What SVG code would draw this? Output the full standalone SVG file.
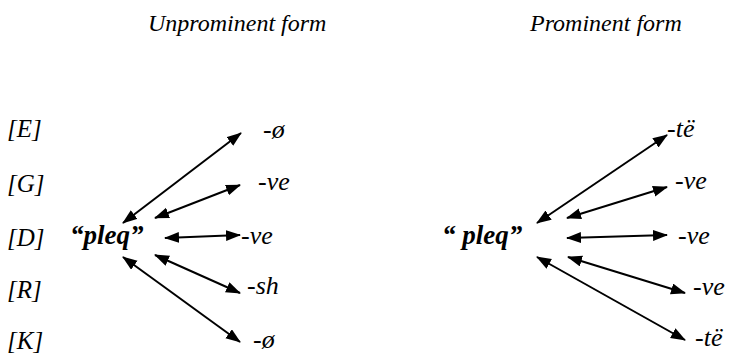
<svg xmlns="http://www.w3.org/2000/svg" width="745" height="353" viewBox="0 0 745 353">
  <style>
    text { font-family: "Liberation Serif", "DejaVu Serif", serif; font-style: italic; fill: #000; }
    .title { font-size: 24px; }
    .lab { font-size: 25px; }
    .end { font-size: 26px; }
    .stem { font-size: 27px; font-weight: bold; }
    .conn line { stroke: #000; stroke-width: 2; marker-start: url(#ah); marker-end: url(#ah); }
  </style>
  <defs>
    <marker id="ah" markerUnits="userSpaceOnUse" markerWidth="15" markerHeight="12" refX="14" refY="5.5" orient="auto-start-reverse">
      <path d="M0,0 L15,5.5 L0,11 z" fill="#000"/>
    </marker>
  </defs>
  <rect width="745" height="353" fill="#fff"/>

  <!-- column headings -->
  <g id="heading-unprominent"><text class="title" x="148" y="31">Unprominent form</text></g>
  <g id="heading-prominent"><text class="title" x="530" y="31">Prominent form</text></g>

  <!-- case labels -->
  <g id="case-E"><text class="lab" x="7" y="137">[E]</text></g>
  <g id="case-G"><text class="lab" x="7" y="192">[G]</text></g>
  <g id="case-D"><text class="lab" x="7" y="246">[D]</text></g>
  <g id="case-R"><text class="lab" x="7" y="298">[R]</text></g>
  <g id="case-K"><text class="lab" x="7" y="349">[K]</text></g>

  <!-- stems -->
  <g id="stem-left"><text class="stem" x="70" y="244">“pleq”</text></g>
  <g id="stem-right"><text class="stem" x="442" y="244">“ pleq”</text></g>

  <!-- unprominent endings -->
  <g id="u-E"><text class="end" x="263" y="138">-ø</text></g>
  <g id="u-G"><text class="end" x="258" y="190">-ve</text></g>
  <g id="u-D"><text class="end" x="241" y="244">-ve</text></g>
  <g id="u-R"><text class="end" x="247" y="294">-sh</text></g>
  <g id="u-K"><text class="end" x="253" y="348">-ø</text></g>

  <!-- prominent endings -->
  <g id="p-E"><text class="end" x="667" y="137">-të</text></g>
  <g id="p-G"><text class="end" x="675" y="189">-ve</text></g>
  <g id="p-D"><text class="end" x="678" y="244">-ve</text></g>
  <g id="p-R"><text class="end" x="693" y="295">-ve</text></g>
  <g id="p-K"><text class="end" x="695" y="346">-të</text></g>

  <!-- double-headed connectors -->
  <g class="conn" id="connectors">
    <line x1="123" y1="223" x2="241" y2="133"/>
    <line x1="155" y1="218" x2="240" y2="185"/>
    <line x1="165" y1="238" x2="240" y2="235"/>
    <line x1="155" y1="255" x2="240" y2="293"/>
    <line x1="123" y1="257" x2="240" y2="342"/>

    <line x1="537" y1="223" x2="667" y2="135"/>
    <line x1="567" y1="218" x2="667" y2="187"/>
    <line x1="567" y1="238" x2="667" y2="235"/>
    <line x1="568" y1="257" x2="685" y2="293"/>
    <line x1="537" y1="257" x2="685" y2="340"/>
  </g>
</svg>
